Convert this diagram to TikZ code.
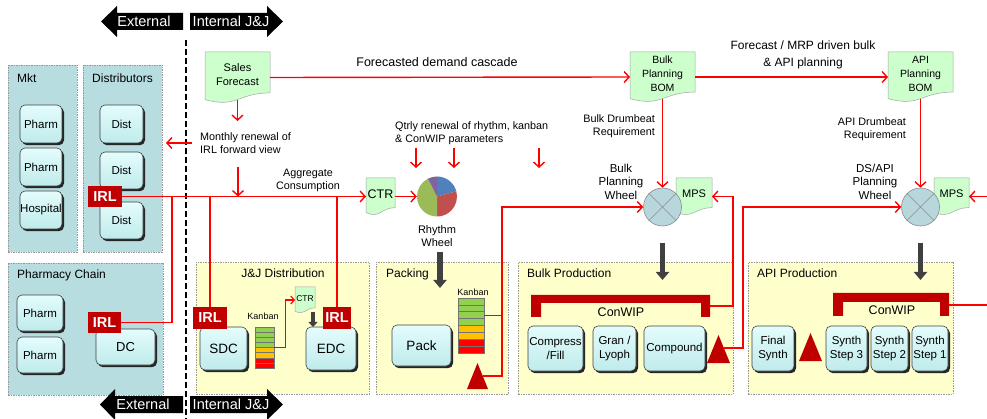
\documentclass[tikz,border=0pt]{standalone}
\usepackage{fontspec}
\setmainfont{Liberation Sans}
\usetikzlibrary{arrows.meta,shadows,calc}

\definecolor{panblue}{HTML}{B7DDE1}
\definecolor{panyel}{HTML}{FFFFCC}
\definecolor{btnface}{HTML}{D2F6F6}
\definecolor{btntop}{HTML}{E4FCFC}
\definecolor{btnbot}{HTML}{BFEBEB}
\definecolor{docgreen}{HTML}{CCFFCC}
\definecolor{drk}{HTML}{C00000}
\definecolor{wheelc}{HTML}{B7D7DC}
\definecolor{kgreen}{HTML}{92D050}
\definecolor{korange}{HTML}{FFC000}
\definecolor{kred}{HTML}{FF0000}
\definecolor{pieblue}{HTML}{4F81BD}
\definecolor{piered}{HTML}{C0504D}
\definecolor{piegreen}{HTML}{9BBB59}
\definecolor{piepurple}{HTML}{8064A2}
\definecolor{arrgray}{HTML}{404040}
\definecolor{linered}{HTML}{FF0000}

\newcommand{\fs}[2]{\fontsize{#1}{#2}\selectfont}

\newcommand{\panelbox}[6]{%
  \node[panelstyle, fill=#6, minimum width={(#4-#2)*1pt}, minimum height={(#5-#3)*1pt}] (#1) at ({(#2+#4)/2},{(#3+#5)/2}) {};}

\newcommand{\btn}[7]{%
  \node[btnbox, font=#6, minimum width={(#4-#2)*1pt}, minimum height={(#5-#3)*1pt}] (#1) at ({(#2+#4)/2},{(#3+#5)/2}) {#7};}

\newcommand{\irlbox}[5]{%
  \node[irlstyle, minimum width={(#4-#2)*1pt}, minimum height={(#5-#3)*1pt}] (#1) at ({(#2+#4)/2},{(#3+#5)/2}) {IRL};}

\newcommand{\docnode}[7]{%
  \filldraw[docbody] (#2,#3) -- (#4,#3) -- (#4,{#3+0.802*(#5-#3)})
    .. controls ({(#2+#4)/2},{#3+0.802*(#5-#3)}) and ({(#2+#4)/2},{#3+1.107*(#5-#3)}) .. (#2,{#3+0.934*(#5-#3)}) -- cycle;
  \node[doctext, font=#6, minimum width={(#4-#2)*1pt}, minimum height={0.86*(#5-#3)*1pt}, anchor=north] (#1) at ({(#2+#4)/2},#3) {#7};
  \coordinate (#1l) at (#2,{#3+0.5*(#5-#3)});
  \coordinate (#1r) at (#4,{#3+0.5*(#5-#3)});
  \coordinate (#1b) at ({(#2+#4)/2},{#3+0.933*(#5-#3)});}

\newcommand{\kanbanstack}[5]{%
  \foreach \ki/\kc in {0/kgreen,1/kgreen,2/kgreen,3/kgreen,4/korange,5/korange,6/kred,7/kred}{%
    \filldraw[fill=\kc, draw=black!55, line width=0.5pt] (#2,{#3+\ki*(#5-#3)/8}) rectangle (#4,{#3+(\ki+1)*(#5-#3)/8});}
  \node[inner sep=0, minimum width={(#4-#2)*1pt}, minimum height={(#5-#3)*1pt}] (#1) at ({(#2+#4)/2},{(#3+#5)/2}) {};}

\tikzset{
  panelstyle/.style={draw=black!40, dash pattern=on 1.5pt off 1pt, line width=0.5pt, inner sep=0},
  ptitle/.style={font=\fs{12}{14}, inner sep=0},
  btnbox/.style={top color=btntop, bottom color=btnbot, draw=black!75, line width=0.6pt, rounded corners=5pt, inner sep=0, align=center,
     drop shadow={shadow xshift=2pt, shadow yshift=-2.2pt, fill=black!85, opacity=1}},
  irlstyle/.style={fill=drk, text=white, font=\bfseries\fs{14.5}{16}, inner sep=0},
  doctext/.style={inner sep=0, align=center},
  docbody/.style={fill=docgreen, draw=black!35, line width=0.5pt},
  wheelnode/.style={circle, fill=wheelc, draw=black!45, line width=0.6pt, minimum size=38pt, inner sep=0},
  wheelx/.style={draw=black!45, line width=0.6pt},
  redline/.style={draw=linered, line width=1.4pt},
  redarrow/.style={redline, -{Straight Barb[length=5pt,width=11pt]}},
  redarrowsmall/.style={draw=linered, line width=1.1pt, -{Straight Barb[length=3.5pt,width=8pt]}},
  darkarrow/.style={draw=arrgray, line width=5.5pt, -{Triangle[length=8pt,width=13pt]}},
  darkarrowsmall/.style={draw=arrgray, line width=3.5pt, -{Triangle[length=5pt,width=9pt]}},
  blocktext/.style={text=white, font=\fs{14.5}{16}, inner sep=0},
  lbl/.style={font=\fs{10.8}{13}, inner sep=0},
  midlbl/.style={font=\fs{11.5}{13.5}, inner sep=0, align=center},
  dashline/.style={draw=black, line width=2pt, dash pattern=on 6pt off 3pt},
  conwipfill/.style={fill=drk},
  trifill/.style={fill=drk},
}

\begin{document}
\begin{tikzpicture}[x=1pt,y=-1pt]
\useasboundingbox (0,0) rectangle (987,419);
\fill[white] (0,0) rectangle (987,419);

% ---------- panels ----------
\panelbox{mkt}{8}{65}{77}{252}{panblue}
\panelbox{dist}{83}{65}{162}{252}{panblue}
\panelbox{pch}{8}{263}{163}{395}{panblue}
\panelbox{jj}{196}{262}{369}{394}{panyel}
\panelbox{pk}{376}{262}{508}{394}{panyel}
\panelbox{bp}{518}{262}{733}{394}{panyel}
\panelbox{ap}{748}{262}{953}{394}{panyel}

\node[ptitle, anchor=base west] (tmkt) at (17,83) {Mkt};
\node[ptitle, anchor=base west] (tdist) at (92,83) {Distributors};
\node[ptitle, anchor=base west] (tpch) at (17,279) {Pharmacy Chain};
\node[ptitle, anchor=base] (tjj) at (283,278) {J\&J Distribution};
\node[ptitle, anchor=base west] (tpk) at (386,278) {Packing};
\node[ptitle, anchor=base west] (tbp) at (527,278) {Bulk Production};
\node[ptitle, anchor=base west] (tap) at (757,278) {API Production};

% ---------- block arrows ----------
\fill[black] (101,21.5) -- (117,6) -- (117,13) -- (183,13) -- (183,30) -- (117,30) -- (117,37) -- cycle;
\node[blocktext] (extT) at (144,21.5) {External};
\fill[black] (283,21.5) -- (267,6) -- (267,13) -- (190,13) -- (190,30) -- (267,30) -- (267,37) -- cycle;
\node[blocktext] (intT) at (231,21.5) {Internal J\&J};
\fill[black] (100,404.5) -- (115,389) -- (115,396) -- (183,396) -- (183,413) -- (115,413) -- (115,420) -- cycle;
\node[blocktext] (extB) at (143,404.5) {External};
\fill[black] (283,404.5) -- (267,389) -- (267,396) -- (190,396) -- (190,413) -- (267,413) -- (267,420) -- cycle;
\node[blocktext] (intB) at (231,404.5) {Internal J\&J};

\coordinate (dlt) at (186,40);
\coordinate (dlb) at (186,419);
\draw[dashline] (dlt) -- (dlb);

% ---------- buttons ----------
\btn{ph1}{20}{105}{62}{143}{\fs{11.5}{13}}{Pharm}
\btn{ph2}{20}{148}{62}{186}{\fs{11.5}{13}}{Pharm}
\btn{hosp}{20}{191}{62}{229}{\fs{11.5}{13}}{Hospital}
\btn{d1}{100}{105}{143}{143}{\fs{11.5}{13}}{Dist}
\btn{d2}{100}{152}{143}{189}{\fs{11.5}{13}}{Dist}
\btn{d3}{100}{202}{143}{239}{\fs{11.5}{13}}{Dist}
\btn{pc1}{17}{295}{63}{331}{\fs{11.5}{13}}{Pharm}
\btn{pc2}{17}{337}{63}{373}{\fs{11.5}{13}}{Pharm}
\btn{dc}{96}{329}{155}{365}{\fs{13}{15}}{DC}
\btn{sdc}{200}{327}{247}{370}{\fs{13.5}{15}}{SDC}
\btn{edc}{306}{327}{356}{370}{\fs{13.5}{15}}{EDC}
\btn{pack}{392}{325}{451}{366}{\fs{13.5}{15}}{Pack}
\btn{cf}{528}{326}{583}{371}{\fs{11.5}{14}}{Compress\\/Fill}
\btn{gl}{593}{326}{636}{371}{\fs{11.5}{14}}{Gran /\\Lyoph}
\btn{comp}{644}{326}{705}{371}{\fs{11.5}{14}}{Compound}
\btn{fsy}{752}{326}{794}{371}{\fs{11.5}{14}}{Final\\Synth}
\btn{s3}{826}{326}{867}{371}{\fs{11.5}{14}}{Synth\\Step 3}
\btn{s2}{871}{326}{908}{371}{\fs{11.5}{14}}{Synth\\Step 2}
\btn{s1}{912}{326}{948}{371}{\fs{11.5}{14}}{Synth\\Step 1}

% ---------- IRL boxes ----------
\irlbox{irld}{88}{186}{122}{207}
\irlbox{irlp}{88}{312}{121}{333}
\irlbox{irls}{193}{307}{227}{329}
\irlbox{irle}{323}{307}{351}{329}

% ---------- kanbans ----------
\kanbanstack{kjj}{255}{327}{274}{368}
\kanbanstack{kpk}{458}{298}{484}{353}
\node[font=\fs{9}{10}, inner sep=0] (kjjl) at (263,316) {Kanban};
\node[font=\fs{9}{10}, inner sep=0] (kpkl) at (473,292) {Kanban};

% ---------- ConWIP brackets ----------
\fill[conwipfill] (531,317) -- (531,295) -- (710,295) -- (710,317) -- (701,317) -- (701,303) -- (541,303) -- (541,317) -- cycle;
\node[font=\fs{12.5}{14}, inner sep=0] (cwb) at (621,312) {ConWIP};
\coordinate (cwbr) at (710,306);
\fill[conwipfill] (833,316) -- (833,293) -- (949,293) -- (949,316) -- (940,316) -- (940,302) -- (843,302) -- (843,316) -- cycle;
\node[font=\fs{12.5}{14}, inner sep=0] (cwa) at (892,310) {ConWIP};
\coordinate (cwar) at (949,305);

% ---------- triangles ----------
\fill[trifill] (467,389) -- (477.5,363) -- (488,389) -- cycle;
\coordinate (tpack) at (483,376);
\fill[trifill] (707,363) -- (718.5,335) -- (730,363) -- cycle;
\coordinate (tbulk) at (724,348);
\fill[trifill] (799,361) -- (810.5,333) -- (822,361) -- cycle;

% ---------- documents ----------
\docnode{sf}{205}{52}{270}{103}{\fs{11}{14}}{Sales\\Forecast}
\docnode{bbom}{630}{52}{695}{102}{\fs{10.5}{14}}{Bulk\\Planning\\BOM}
\docnode{abom}{888}{52}{953}{102}{\fs{10.5}{14}}{API\\Planning\\BOM}
\docnode{ctr}{366}{178}{395}{215}{\fs{12.5}{14}}{CTR}
\docnode{ctrs}{295}{287}{315}{313}{\fs{8.5}{10}}{CTR}
\docnode{bmps}{676}{178}{712}{215}{\fs{11}{13}}{MPS}
\docnode{amps}{934}{178}{969}{215}{\fs{11}{13}}{MPS}

% ---------- planning wheels ----------
\node[wheelnode] (bw) at (662.5,207) {};
\draw[wheelx] (bw.north west) -- (bw.south east) (bw.north east) -- (bw.south west);
\node[wheelnode] (aw) at (920.5,207) {};
\draw[wheelx] (aw.north west) -- (aw.south east) (aw.north east) -- (aw.south west);

% ---------- rhythm wheel pie ----------
\node[circle, minimum size=40pt, inner sep=0] (pie) at (437,196.5) {};
\fill[pieblue] (pie.center) -- ++(-90:20) arc[start angle=-90, end angle=-15, radius=20] -- cycle;
\fill[piered] (pie.center) -- ++(-15:20) arc[start angle=-15, end angle=90, radius=20] -- cycle;
\fill[piegreen] (pie.center) -- ++(90:20) arc[start angle=90, end angle=243, radius=20] -- cycle;
\fill[piepurple] (pie.center) -- ++(243:20) arc[start angle=243, end angle=270, radius=20] -- cycle;

% ---------- labels ----------
\node[font=\fs{12.5}{14}, inner sep=0] (fdc) at (437,62.5) {Forecasted demand cascade};
\node[font=\fs{12}{17}, inner sep=0, align=center] (fmrp) at (803,54.5) {Forecast / MRP driven bulk\\\& API planning};
\node[lbl, align=left, anchor=west] (mren) at (200,143) {Monthly renewal of\\IRL forward view};
\node[lbl, align=center] (agg) at (308,180.5) {Aggregate\\Consumption};
\node[lbl, align=left, anchor=west] (qtr) at (395,133.5) {Qtrly renewal of rhythm, kanban\\\& ConWIP parameters};
\node[lbl, align=right, anchor=east] (bdr) at (655,126) {Bulk Drumbeat\\Requirement};
\node[lbl, align=right, anchor=east] (adr) at (906,129.5) {API Drumbeat\\Requirement};
\node[midlbl] (bwl) at (621,181.5) {Bulk\\Planning\\Wheel};
\node[midlbl] (awl) at (875,181.5) {DS/API\\Planning\\Wheel};
\node[font=\fs{11}{12.5}, inner sep=0, align=center] (rwl) at (437,236) {Rhythm\\Wheel};

% ---------- red connectors ----------
\coordinate (jA) at (172,196.5);
\coordinate (jB) at (210,196.5);
\coordinate (jC) at (337,196.5);
\draw[redarrow] (irld.east) -- (ctrl);
\draw[redline] (irlp.east) -| (jA);
\draw[redline] (jB) -- (irls.north);
\draw[redline] (jC) -- (irle.north);
\coordinate (mrs) at (238,167);
\draw[redarrow] (mrs) -- (mrs |- jA);
\coordinate (sfd) at (237.5,121);
\draw[redarrow] (sfb) -- (sfd);
\coordinate (lar) at (192,143);
\coordinate (lal) at (166,143);
\draw[redarrow] (lar) -- (lal);
\draw[redarrow] (ctrr) -- (pie.west);

\coordinate (q1s) at (416,148); \coordinate (q1e) at (416,168);
\coordinate (q2s) at (454,148); \coordinate (q2e) at (454,168);
\coordinate (q3s) at (539,148); \coordinate (q3e) at (539,168);
\draw[redarrow] (q1s) -- (q1e);
\draw[redarrow] (q2s) -- (q2e);
\draw[redarrow] (q3s) -- (q3e);

\draw[redarrow] (sfr) -- (bboml);
\draw[redarrow] (bbomr) -- (aboml);
\draw[redarrow] (bbomb) -- (bw.north);
\draw[redarrow] (abomb) -- (aw.north);

\coordinate (pbx) at (502,0);
\coordinate (kpkout) at ($(kpk.east)+(0,-10)$);
\draw[redline] (kpkout) -- (kpkout -| pbx);
\draw[redarrow] (tpack) -| (pbx |- bw.west) -- (bw.west);

\coordinate (bx1) at (733,0);
\coordinate (bx2) at (743,0);
\draw[redarrow] (cwbr) -| (bx1 |- bmpsr) -- (bmpsr);
\draw[redarrow] (tbulk) -| (bx2 |- aw.west) -- (aw.west);

\coordinate (edgeA) at (987,305);
\coordinate (edgeB) at (987,196.5);
\draw[redline] (cwar) -- (edgeA);
\draw[redarrow] (edgeB) -- (ampsr);

\draw[redarrowsmall] (kjj.east) -- ++(11,0) |- (ctrsl);

% ---------- dark arrows ----------
\coordinate (rwd1) at (440,252); \coordinate (rwd2) at (440,288);
\coordinate (bwd1) at (662.5,243); \coordinate (bwd2) at (662.5,280);
\coordinate (awd1) at (920.5,243); \coordinate (awd2) at (920.5,280);
\coordinate (sda1) at (313,312); \coordinate (sda2) at (313,327);
\draw[darkarrow] (rwd1) -- (rwd2);
\draw[darkarrow] (bwd1) -- (bwd2);
\draw[darkarrow] (awd1) -- (awd2);
\draw[darkarrowsmall] (sda1) -- (sda2);
\end{tikzpicture}
\end{document}
